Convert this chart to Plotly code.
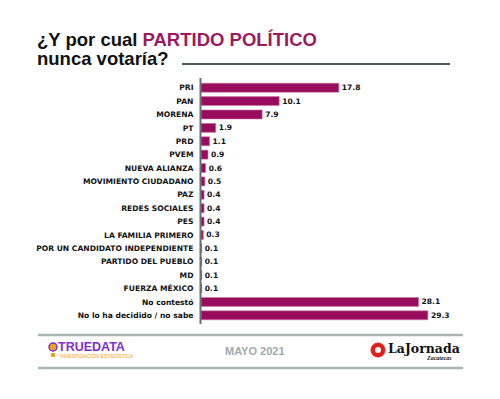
import plotly.graph_objects as go

categories = ["PRI", "PAN", "MORENA", "PT", "PRD", "PVEM", "NUEVA ALIANZA",
              "MOVIMIENTO CIUDADANO", "PAZ", "REDES SOCIALES", "PES",
              "LA FAMILIA PRIMERO", "POR UN CANDIDATO INDEPENDIENTE",
              "PARTIDO DEL PUEBLO", "MD", "FUERZA MÉXICO", "No contestó",
              "No lo ha decidido / no sabe"]
values = [17.8, 10.1, 7.9, 1.9, 1.1, 0.9, 0.6, 0.5, 0.4, 0.4, 0.4, 0.3,
          0.1, 0.1, 0.1, 0.1, 28.1, 29.3]
value_labels = [f"{v:.1f}" for v in values]

OFF = 8  # browser default body margin
W, H = 500 - OFF, 399 - OFF
# plot area in reference pixel coords
L_REF, R_REF, T_REF, B_REF = 201, 472, 81, 322
ML, MR, MT = L_REF - OFF, 500 - R_REF, T_REF - OFF
MB = 399 - B_REF
PW, PH = W - ML - MR, H - MT - MB

def px(x):
    return (x - OFF - ML) / PW

def py(y):
    return (H - MB - (y - OFF)) / PH

BAR = "#980b5d"
ACCENT = "#9b1a5e"
LABEL_FONT = dict(family="DejaVu Sans", size=7.6, color="#111111", weight="bold")

fig = go.Figure(go.Bar(
    x=values, y=categories, orientation="h",
    marker=dict(color=BAR, line=dict(color="#c77aa3", width=0.6)),
    text=value_labels, textposition="outside",
    textfont=LABEL_FONT,
    cliponaxis=False,
))

fig.update_layout(
    width=W, height=H,
    margin=dict(l=ML, r=MR, t=MT, b=MB, autoexpand=False),
    paper_bgcolor="white", plot_bgcolor="white",
    bargap=0.33, showlegend=False,
    xaxis=dict(range=[0, 35], visible=False),
    yaxis=dict(autorange="reversed", showgrid=False, zeroline=False,
               showline=False, ticks="outside", ticklen=5, tickcolor="white",
               tickfont=LABEL_FONT, automargin=False),
)

shapes = []
shapes.append(dict(type="line", xref="paper", yref="paper",
                   x0=px(200.5), x1=px(200.5), y0=py(78), y1=py(324),
                   line=dict(color="#5f7373", width=2)))
shapes.append(dict(type="line", xref="paper", yref="paper",
                   x0=px(182), x1=px(450), y0=py(64), y1=py(64),
                   line=dict(color="#4d5c5c", width=2)))
for yy in (335, 368):
    shapes.append(dict(type="line", xref="paper", yref="paper",
                       x0=px(38), x1=px(463), y0=py(yy), y1=py(yy),
                       line=dict(color="#a8b6b6", width=2.5)))
# TRUEDATA icon
shapes.append(dict(type="circle", xref="paper", yref="paper",
                   x0=px(49), x1=px(57), y0=py(343), y1=py(351),
                   fillcolor="#f0a020", line=dict(color="#7a2fd6", width=1.5)))
shapes.append(dict(type="rect", xref="paper", yref="paper",
                   x0=px(51), x1=px(55), y0=py(353), y1=py(357),
                   fillcolor="#f0a020", line=dict(width=0)))
# La Jornada red circle
shapes.append(dict(type="circle", xref="paper", yref="paper",
                   x0=px(371), x1=px(385), y0=py(343), y1=py(357),
                   fillcolor="#e0201b", line=dict(color="#e0201b", width=1)))
shapes.append(dict(type="circle", xref="paper", yref="paper",
                   x0=px(375), x1=px(381), y0=py(347), y1=py(353),
                   fillcolor="white", line=dict(color="white", width=0)))
fig.update_layout(shapes=shapes)

TITLE_FONT = dict(family="Liberation Sans", size=18.5, color="#111111",
                  weight="bold")
annotations = [
    dict(text=f"¿Y por cual <span style='color:{ACCENT}'>PARTIDO POLÍTICO</span>",
         xref="paper", yref="paper", x=px(35), y=py(27), xanchor="left",
         yanchor="top", showarrow=False, font=TITLE_FONT),
    dict(text="nunca votaría?",
         xref="paper", yref="paper", x=px(35), y=py(46), xanchor="left",
         yanchor="top", showarrow=False, font=TITLE_FONT),
    dict(text="MAYO 2021", xref="paper", yref="paper", x=px(255), y=py(351),
         xanchor="center", yanchor="middle", showarrow=False,
         font=dict(family="Liberation Sans", size=11, color="#9cabab",
                   weight="bold")),
    dict(text="TRUEDATA", xref="paper", yref="paper", x=px(56), y=py(347),
         xanchor="left", yanchor="middle", showarrow=False,
         font=dict(family="Liberation Sans", size=12.5, color="#7a2fd6",
                   weight="bold")),
    dict(text="INVESTIGACIÓN ESTADÍSTICA", xref="paper", yref="paper",
         x=px(58), y=py(356), xanchor="left", yanchor="middle",
         showarrow=False,
         font=dict(family="Liberation Sans", size=5, color="#f0a020")),
    dict(text="LaJornada", xref="paper", yref="paper", x=px(386), y=py(348),
         xanchor="left", yanchor="middle", showarrow=False,
         font=dict(family="DejaVu Serif", size=12.5, color="#111111",
                   weight="bold")),
    dict(text="<i>Zacatecas</i>", xref="paper", yref="paper", x=px(454),
         y=py(358), xanchor="right", yanchor="middle", showarrow=False,
         font=dict(family="Liberation Serif", size=6, color="#111111",
                   weight="bold")),
]
fig.update_layout(annotations=annotations)

fig.write_html("out.html")
